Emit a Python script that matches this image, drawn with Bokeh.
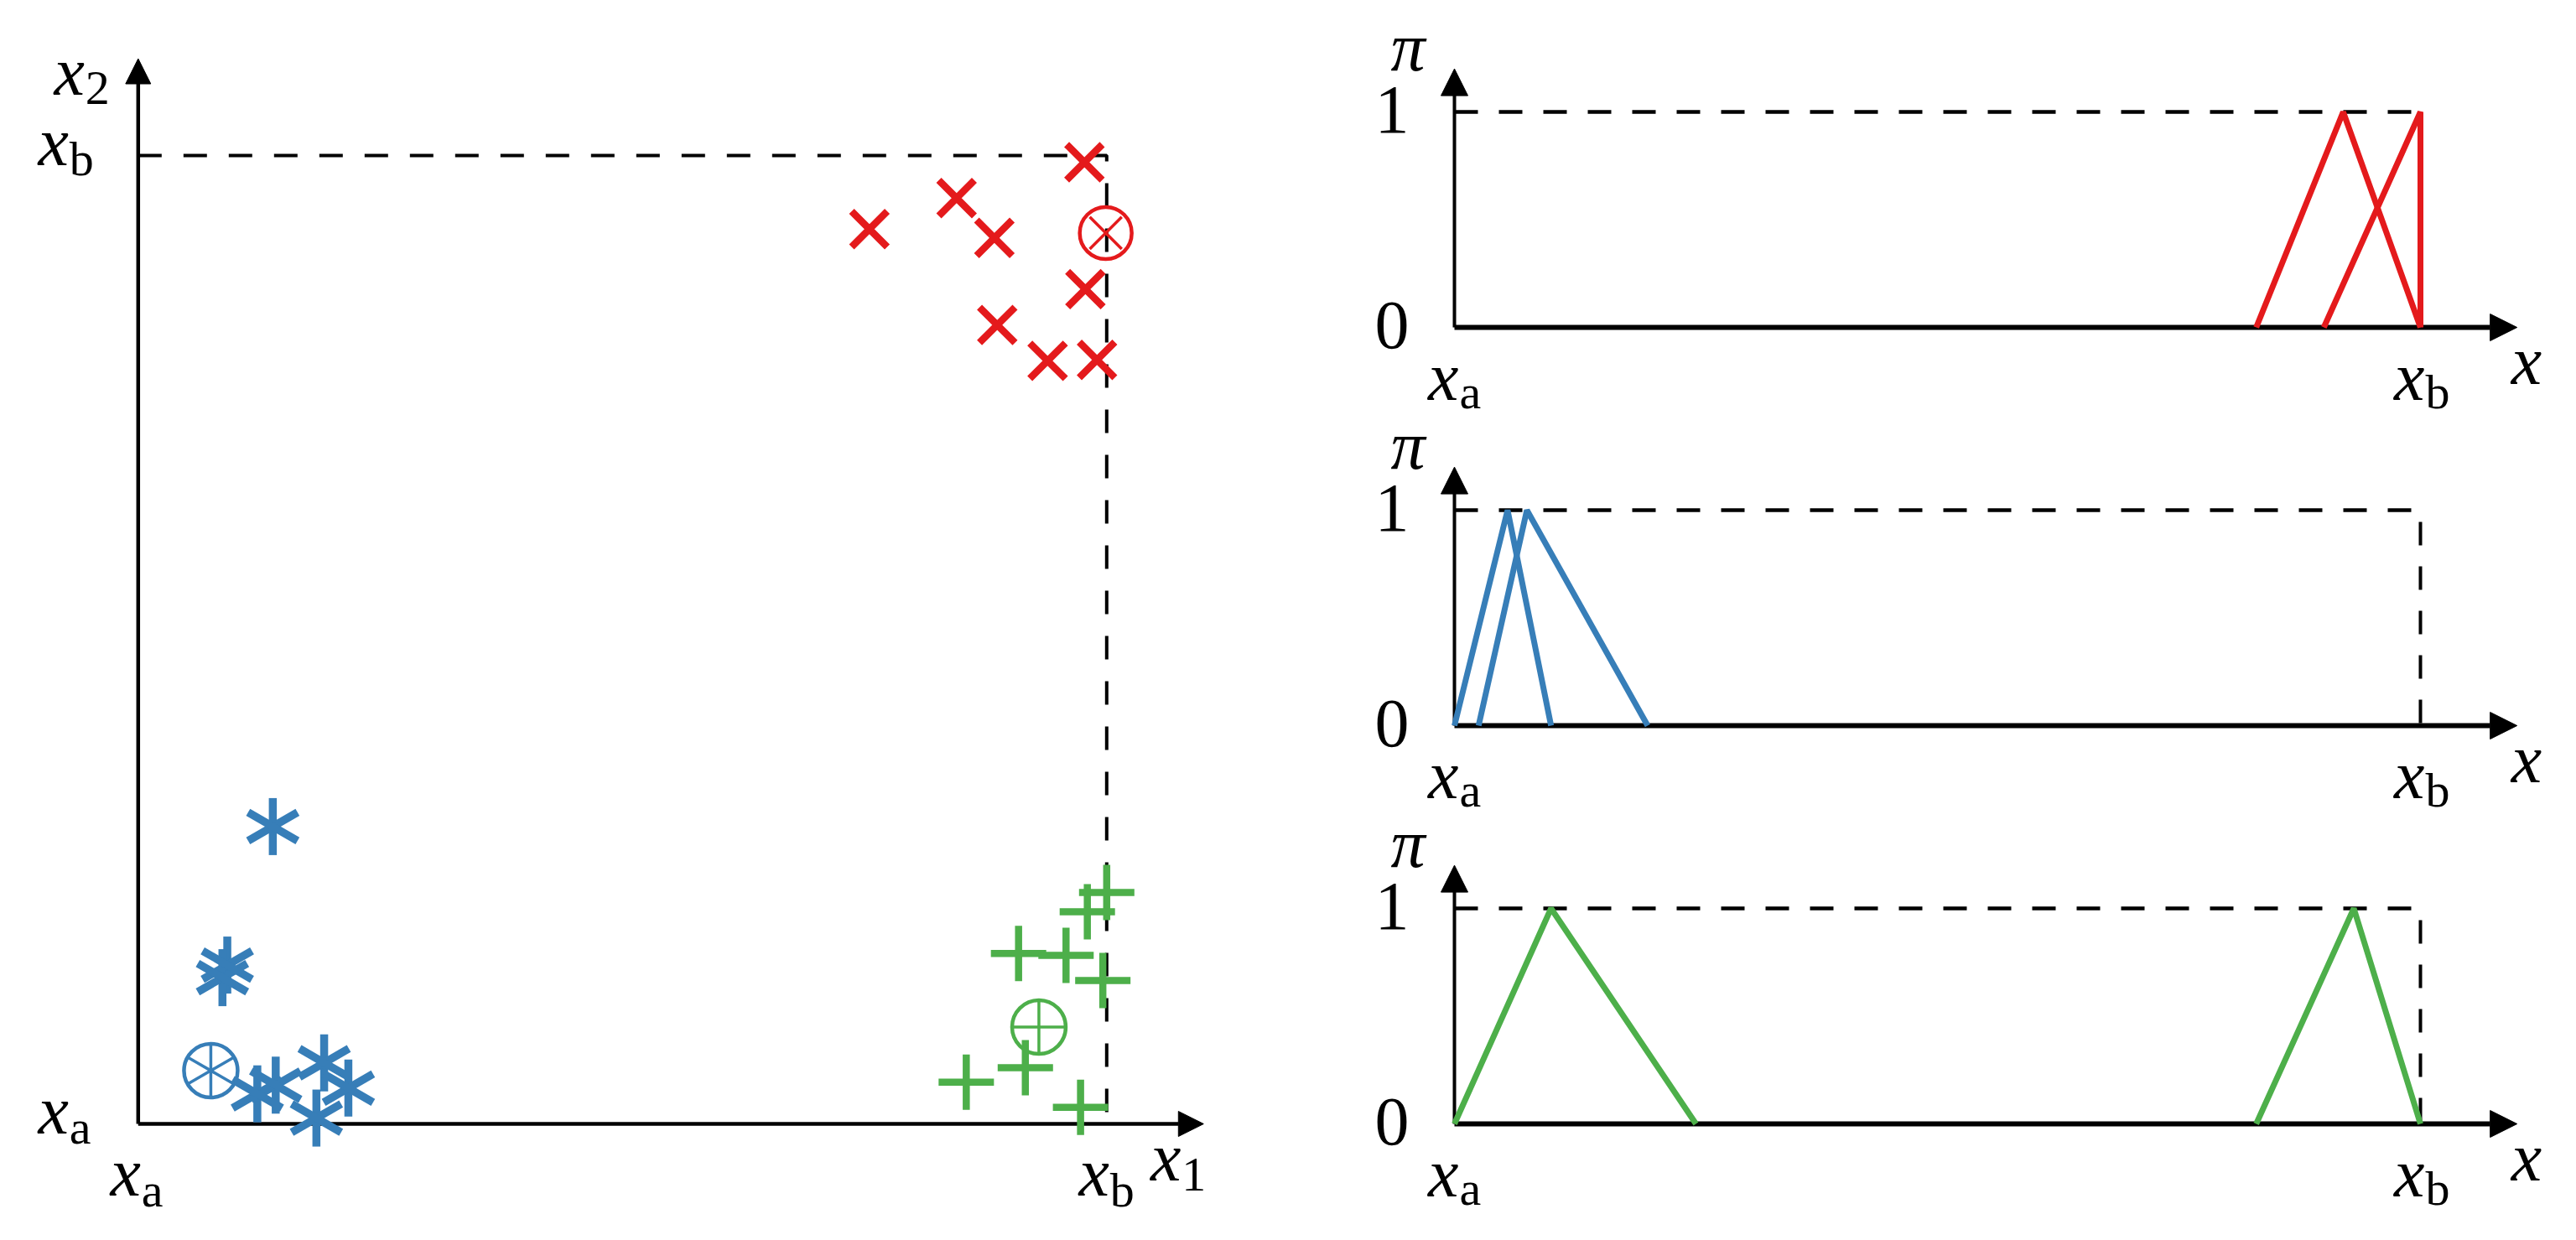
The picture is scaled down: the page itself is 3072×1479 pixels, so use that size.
import math
from bokeh.plotting import figure
from bokeh.models import Range1d, Arrow, NormalHead
from bokeh.core.properties import value
from bokeh.embed import file_html
from bokeh.resources import INLINE

# ---------------- data ----------------
# left panel: samples in the (x1, x2) plane, scaled so that xa = 0, xb = 1
red_x1 = [0.977, 0.845, 0.884, 0.755, 0.978, 0.887, 0.939, 0.990]
red_x2 = [0.993, 0.956, 0.915, 0.924, 0.862, 0.825, 0.788, 0.789]
red_center = ([0.999], [0.920])

blue_x1 = [0.139, 0.092, 0.087, 0.123, 0.142, 0.192, 0.217, 0.184]
blue_x2 = [0.307, 0.164, 0.151, 0.031, 0.040, 0.063, 0.037, 0.006]
blue_center = ([0.075], [0.055])

green_x1 = [1.000, 0.980, 0.909, 0.958, 0.996, 0.916, 0.855, 0.973]
green_x2 = [0.239, 0.219, 0.176, 0.174, 0.148, 0.058, 0.043, 0.017]
green_center = ([0.930], [0.100])

# right panels: triangular possibility distributions (start, peak, end)
red_tri_lo = [0.830, 0.900]
red_tri_peak = [0.920, 1.000]
red_tri_hi = [1.000, 1.000]

blue_tri_lo = [0.000, 0.025]
blue_tri_peak = [0.055, 0.075]
blue_tri_hi = [0.100, 0.200]

green_tri_lo = [0.000, 0.830]
green_tri_peak = [0.100, 0.931]
green_tri_hi = [0.250, 1.000]

# tick labels
x_ticks = [0, 1]
x_tick_main = ["x", "x"]
x_tick_sub = ["a", "b"]
pi_ticks = [0, 1]
pi_tick_labels = ["0", "1"]

RED = "#e41a1c"
BLUE = "#377eb8"
GREEN = "#4daf4a"
FONT = "Liberation Serif"
MAIN_SIZE = "82px"
SUB_SIZE = "58px"
# the text glyph centres its box on the anchor; shift so offsets below are baselines
MAIN_SHIFT = -28
SUB_SHIFT = -20

W, H = 3068, 1476


def xrange_(zero_px, unit):
    return Range1d(-zero_px / unit, (W - zero_px) / unit)


def yrange_(zero_px, unit):
    return Range1d((zero_px - H) / unit, zero_px / unit)


p = figure(width=W, height=H, x_range=xrange_(164.3, 1155), y_range=yrange_(1340, 1155),
           output_backend="svg", toolbar_location=None,
           x_axis_type=None, y_axis_type=None, min_border=0,
           outline_line_color=None, background_fill_color="white",
           border_fill_color="white")
p.extra_x_ranges = {"right": xrange_(1734, 1152)}
p.extra_y_ranges = {"top": yrange_(390, 257), "mid": yrange_(865, 257), "bot": yrange_(1340, 257)}


def arrow(x1, y1, lw, head, xr="default", yr="default"):
    a = Arrow(x_start=0, y_start=0, x_end=x1, y_end=y1, line_width=lw,
              line_color="black",
              end=NormalHead(size=head, fill_color="black", line_color="black", line_width=1),
              level="underlay", x_range_name=xr, y_range_name=yr)
    p.add_layout(a)


def main_text(xs, ys, texts, dx, dy, align, italic=True, xr="default", yr="default"):
    p.text(x=xs, y=ys, text=texts, x_offset=dx, y_offset=dy + MAIN_SHIFT,
           text_align=align, text_baseline="alphabetic",
           text_font=value(FONT), text_font_style="italic" if italic else "normal",
           text_font_size=value(MAIN_SIZE), text_color="black",
           x_range_name=xr, y_range_name=yr)


def sub_text(xs, ys, mains, subs, dx, dy_main, dy_sub, xr="default", yr="default"):
    main_text(xs, ys, mains, dx, dy_main, "right", True, xr, yr)
    p.text(x=xs, y=ys, text=subs, x_offset=dx + 1, y_offset=dy_sub + SUB_SHIFT,
           text_align="left", text_baseline="alphabetic",
           text_font=value(FONT), text_font_style="normal",
           text_font_size=value(SUB_SIZE), text_color="black",
           x_range_name=xr, y_range_name=yr)


# ---------------- left panel ----------------
arrow(1.1, 0, 4.5, 30)
arrow(0, 1.1, 4.5, 30)
p.line([0, 1, 1], [1, 1, 0], line_color="black", line_width=4, line_dash="28 26")

p.scatter(red_x1, red_x2, marker="x", size=60, line_color=RED, line_width=8.5)
p.scatter(green_x1, green_x2, marker="cross", size=66, line_color=GREEN, line_width=8.5)
for ang in (math.pi / 2, math.pi / 6, -math.pi / 6):
    p.scatter(blue_x1, blue_x2, marker="dash", size=68, angle=ang,
              line_color=BLUE, line_width=9.5)

# cluster centres
p.scatter(*red_center, marker="circle", size=62, fill_color=None, line_color=RED, line_width=4.5)
p.scatter(*red_center, marker="x", size=54, line_color=RED, line_width=3.5)
p.scatter(*green_center, marker="circle", size=64, fill_color=None, line_color=GREEN, line_width=4.5)
p.scatter(*green_center, marker="cross", size=64, line_color=GREEN, line_width=3.5)
p.scatter(*blue_center, marker="circle", size=64, fill_color=None, line_color=BLUE, line_width=4.5)
for ang in (math.pi / 2, math.pi / 6, -math.pi / 6):
    p.scatter(*blue_center, marker="dash", size=64, angle=ang, line_color=BLUE, line_width=3.5)

# labels
sub_text(x_ticks, [0, 0], x_tick_main, x_tick_sub, 3, 86, 99)
sub_text([0, 0], x_ticks, x_tick_main, x_tick_sub, -83, 12, 24)
sub_text([1.1], [0], ["x"], ["1"], -27, 68, 80)
sub_text([0], [1.1], ["x"], ["2"], -64, 43, 55)


# ---------------- right panels ----------------
def right_panel(yr, lo, peak, hi, color):
    xr = "right"
    arrow(1.1, 0, 6, 32, xr, yr)
    arrow(0, 1.2, 4, 32, xr, yr)
    p.line([0, 1], [1, 1], line_color="black", line_width=4.5, line_dash="28 25",
           x_range_name=xr, y_range_name=yr)
    p.line([1, 1], [1, 0], line_color="black", line_width=4, line_dash="28 25",
           line_dash_offset=-14, x_range_name=xr, y_range_name=yr)
    xs = [[a, b, c] for a, b, c in zip(lo, peak, hi)]
    ys = [[0, 1, 0] for _ in lo]
    p.multi_line(xs, ys, line_color=color, line_width=7, x_range_name=xr, y_range_name=yr)
    main_text([0, 0], pi_ticks, pi_tick_labels, -54, 25, "right", False, xr, yr)
    main_text([0], [1.2], ["π"], -35, 2, "right", True, xr, yr)
    sub_text(x_ticks, [0, 0], x_tick_main, x_tick_sub, 5, 87, 97, xr, yr)
    main_text([1.1], [0], ["x"], -7, 68, "left", True, xr, yr)


right_panel("top", red_tri_lo, red_tri_peak, red_tri_hi, RED)
right_panel("mid", blue_tri_lo, blue_tri_peak, blue_tri_hi, BLUE)
right_panel("bot", green_tri_lo, green_tri_peak, green_tri_hi, GREEN)

open("out.html", "w").write(file_html(p, INLINE))
